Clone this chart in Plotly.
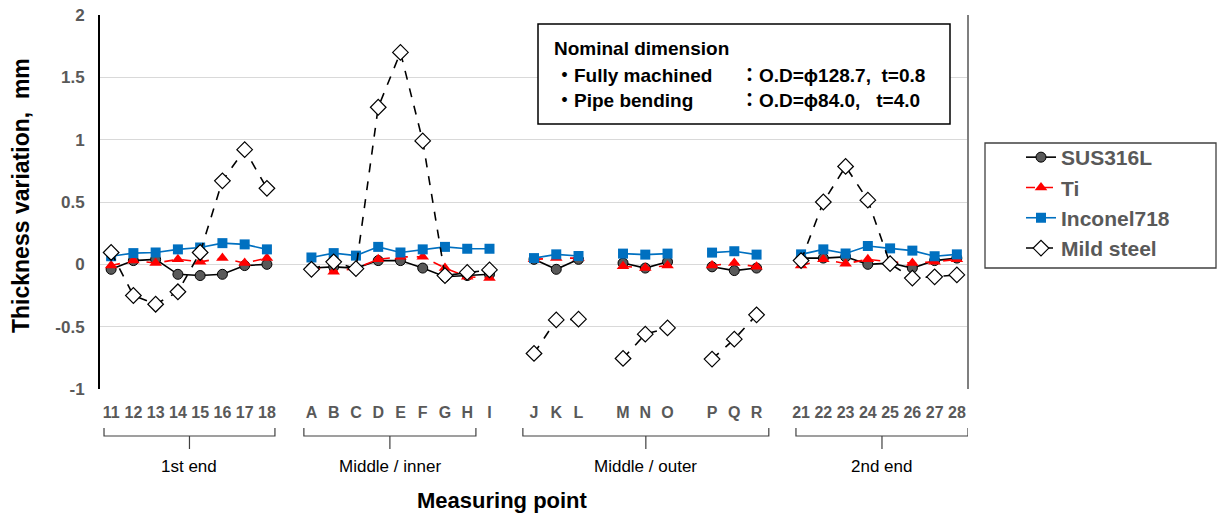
import plotly.graph_objects as go

# ---------------- data ----------------
categories = ["11", "12", "13", "14", "15", "16", "17", "18", "",
              "A", "B", "C", "D", "E", "F", "G", "H", "I", "",
              "J", "K", "L", "", "M", "N", "O", "", "P", "Q", "R", "",
              "21", "22", "23", "24", "25", "26", "27", "28"]

sus316l = [-0.04, 0.03, 0.04, -0.08, -0.09, -0.08, -0.01, 0.00, None,
           -0.03, -0.02, -0.03, 0.03, 0.03, -0.03, -0.10, -0.09, -0.08, None,
           0.04, -0.04, 0.04, None, 0.01, -0.03, 0.02, None, -0.02, -0.05, -0.03, None,
           0.05, 0.05, 0.06, 0.00, 0.01, -0.03, 0.03, 0.05]

ti = [-0.01, 0.03, 0.01, 0.04, 0.02, 0.05, 0.01, 0.05, None,
      -0.02, -0.06, -0.03, 0.04, 0.06, 0.06, -0.03, -0.10, -0.11, None,
      0.04, 0.05, 0.05, None, -0.015, -0.03, -0.01, None, -0.01, 0.01, -0.02, None,
      -0.01, 0.04, 0.005, 0.04, 0.02, 0.01, 0.02, 0.04]

inconel718 = [0.065, 0.09, 0.095, 0.12, 0.135, 0.17, 0.16, 0.12, None,
              0.055, 0.09, 0.07, 0.14, 0.095, 0.12, 0.14, 0.125, 0.125, None,
              0.05, 0.08, 0.067, None, 0.086, 0.078, 0.086, None, 0.094, 0.105, 0.078, None,
              0.08, 0.12, 0.087, 0.147, 0.128, 0.11, 0.065, 0.08]

mild_steel = [0.095, -0.25, -0.32, -0.22, 0.095, 0.67, 0.92, 0.61, None,
              -0.04, 0.02, -0.035, 1.26, 1.70, 0.99, -0.09, -0.065, -0.045, None,
              -0.715, -0.446, -0.44, None, -0.755, -0.56, -0.51, None, -0.76, -0.60, -0.405, None,
              0.03, 0.50, 0.785, 0.515, 0.005, -0.11, -0.10, -0.085]

group_labels = ["1st end", "Middle / inner", "Middle / outer", "2nd end"]
# bracket spans (in category-index units)
group_spans = [(-0.32, 7.36), (8.66, 16.39), (18.5, 29.55), (30.77, 38.5)]

y_ticks = [-1, -0.5, 0, 0.5, 1, 1.5, 2]

# ---------------- figure ----------------
x_idx = list(range(len(categories)))
tickvals = [i for i, c in enumerate(categories) if c]
ticktext = [c for c in categories if c]

FONT = "Liberation Sans, Arial, Noto Sans CJK JP, sans-serif"

fig = go.Figure()
fig.add_trace(go.Scatter(
    x=x_idx, y=sus316l, name="SUS316L", mode="lines+markers",
    line=dict(color="black", width=1.6),
    marker=dict(symbol="circle", size=10, color="#595959", line=dict(color="black", width=1))))
fig.add_trace(go.Scatter(
    x=x_idx, y=ti, name="Ti", mode="lines+markers",
    line=dict(color="#FF0000", width=1.6, dash="dash"),
    marker=dict(symbol="triangle-up", size=11, color="#FF0000", line=dict(color="#FF0000", width=0))))
fig.add_trace(go.Scatter(
    x=x_idx, y=inconel718, name="Inconel718", mode="lines+markers",
    line=dict(color="#0070C0", width=1.6),
    marker=dict(symbol="square", size=10, color="#0070C0", line=dict(color="#0070C0", width=0))))
fig.add_trace(go.Scatter(
    x=x_idx, y=mild_steel, name="Mild steel", mode="lines+markers",
    line=dict(color="black", width=1.6, dash="dash"),
    marker=dict(symbol="diamond", size=12, color="white", line=dict(color="black", width=1.2))))

L, R, T, B = 100, 250, 15, 131
W, H = 1218, 520
pw, ph = W - L - R, H - T - B


def px_x(px):
    return (px - L) / pw


def px_y(py):
    return (H - B - py) / ph


fig.update_layout(
    width=W, height=H,
    margin=dict(l=L, r=R, t=T, b=B, pad=0, autoexpand=False),
    paper_bgcolor="white", plot_bgcolor="white",
    font=dict(family=FONT, color="#595959"),
    showlegend=True,
    legend=dict(
        x=px_x(985), y=px_y(137), xanchor="left", yanchor="top",
        borderwidth=0, bgcolor="rgba(0,0,0,0)",
        font=dict(family=FONT, size=21, color="#595959", weight="bold"),
        indentation=36, tracegroupgap=0,
    ),
    xaxis=dict(
        range=[-0.5, len(categories) - 0.5], automargin=False,
        tickmode="array", tickvals=tickvals, ticktext=ticktext,
        showgrid=False, zeroline=False, showline=False, ticks="",
        tickfont=dict(family=FONT, size=16, color="#595959", weight="bold"),
        ticklabelstandoff=12,
    ),
    yaxis=dict(
        range=[-1, 2], tickmode="array", tickvals=y_ticks, automargin=False,
        ticktext=[f"{v:g}" for v in y_ticks],
        showgrid=True, gridcolor="#D9D9D9", gridwidth=1.3,
        zeroline=False, showline=True, linecolor="black", linewidth=2,
        ticks="", tickfont=dict(family=FONT, size=17, color="#595959", weight="bold"),
        ticklabelstandoff=10,
    ),
)

shapes = []
annotations = []

# right border of the plot area
shapes.append(dict(type="line", xref="paper", yref="paper", x0=1, x1=1, y0=0, y1=1,
                   line=dict(color="#7F7F7F", width=2)))

# legend frame
shapes.append(dict(type="rect", xref="paper", yref="paper",
                   x0=px_x(985), x1=px_x(1216), y0=px_y(268), y1=px_y(143),
                   line=dict(color="#404040", width=1.3), fillcolor="white", layer="below"))

# group brackets
y_top, y_mid, y_bot = px_y(428), px_y(436), px_y(449)
for (a, b), lab in zip(group_spans, group_labels):
    c = (a + b) / 2
    shapes.append(dict(type="path", xref="x", yref="paper",
                       path=f"M {a},{y_top} L {a},{y_mid} L {b},{y_mid} L {b},{y_top}",
                       line=dict(color="#404040", width=1.2)))
    shapes.append(dict(type="line", xref="x", yref="paper", x0=c, x1=c, y0=y_mid, y1=y_bot,
                       line=dict(color="#404040", width=1.2)))
    annotations.append(dict(x=c, y=px_y(466), xref="x", yref="paper", text=lab,
                            showarrow=False, xanchor="center", yanchor="middle",
                            font=dict(family=FONT, size=17, color="black")))

# axis titles
annotations.append(dict(x=px_x(21), y=px_y(196), xref="paper", yref="paper",
                        text="Thickness variation,\u00a0\u00a0mm", textangle=-90, showarrow=False,
                        xanchor="center", yanchor="middle",
                        font=dict(family=FONT, size=23, color="black", weight="bold")))
annotations.append(dict(x=px_x(502), y=px_y(500), xref="paper", yref="paper",
                        text="Measuring point", showarrow=False,
                        xanchor="center", yanchor="middle",
                        font=dict(family=FONT, size=22, color="black", weight="bold")))

# nominal dimension box
shapes.append(dict(type="rect", xref="paper", yref="paper",
                   x0=px_x(538), x1=px_x(950), y0=px_y(124), y1=px_y(24),
                   line=dict(color="black", width=1.5), fillcolor="white", layer="above"))
box_font = dict(family=FONT, size=19, color="black", weight="bold")
box_texts = [
    (552, 48, "Nominal dimension"),
    (553, 75, "\u30fbFully machined"),
    (738, 75, "\uff1aO.D=\u03d5128.7,\u00a0\u00a0t=0.8"),
    (553, 100, "\u30fbPipe bending"),
    (738, 100, "\uff1aO.D=\u03d584.0,\u00a0\u00a0\u00a0t=4.0"),
]
for bx, by, t in box_texts:
    annotations.append(dict(x=px_x(bx), y=px_y(by), xref="paper", yref="paper", text=t,
                            showarrow=False, xanchor="left", yanchor="middle", font=box_font))

fig.update_layout(shapes=shapes, annotations=annotations)

fig.write_html("out.html", config={"displayModeBar": False},
               post_script="document.body.style.margin='0px';document.body.style.overflow='hidden';")
